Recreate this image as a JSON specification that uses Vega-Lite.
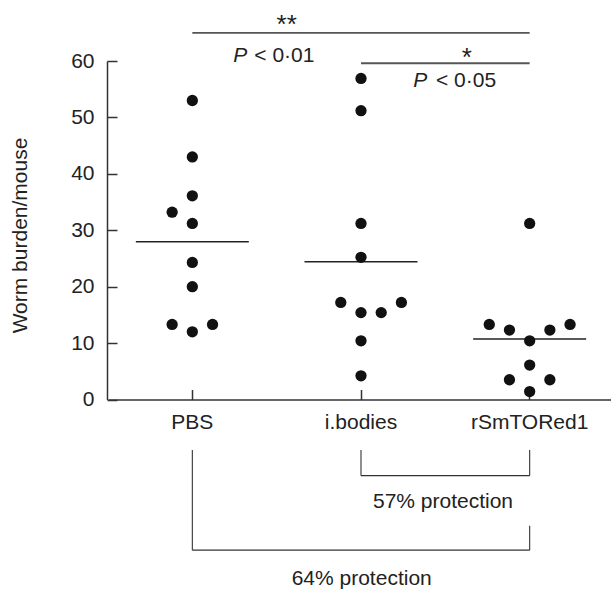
{
  "$schema": "https://vega.github.io/schema/vega-lite/v6.json",
  "width": 506,
  "height": 338.5,
  "autosize": {"type": "none"},
  "padding": {"left": 108, "top": 61, "right": 0, "bottom": 192.5},
  "background": "white",
  "config": {"view": {"stroke": null}, "font": "Liberation Sans"},
  "datasets": {
    "mice": [
      {"group": "PBS", "worms": 53.0, "slot": 0},
      {"group": "PBS", "worms": 43.0, "slot": 0},
      {"group": "PBS", "worms": 36.1, "slot": 0},
      {"group": "PBS", "worms": 33.2, "slot": -1},
      {"group": "PBS", "worms": 31.2, "slot": 0},
      {"group": "PBS", "worms": 24.3, "slot": 0},
      {"group": "PBS", "worms": 20.0, "slot": 0},
      {"group": "PBS", "worms": 13.3, "slot": -1},
      {"group": "PBS", "worms": 13.3, "slot": 1},
      {"group": "PBS", "worms": 12.0, "slot": 0},
      {"group": "i.bodies", "worms": 56.9, "slot": 0},
      {"group": "i.bodies", "worms": 51.2, "slot": 0},
      {"group": "i.bodies", "worms": 31.2, "slot": 0},
      {"group": "i.bodies", "worms": 25.2, "slot": 0},
      {"group": "i.bodies", "worms": 17.2, "slot": -1},
      {"group": "i.bodies", "worms": 15.4, "slot": 0},
      {"group": "i.bodies", "worms": 15.4, "slot": 1},
      {"group": "i.bodies", "worms": 17.2, "slot": 2},
      {"group": "i.bodies", "worms": 10.4, "slot": 0},
      {"group": "i.bodies", "worms": 4.2, "slot": 0},
      {"group": "rSmTORed1", "worms": 31.2, "slot": 0},
      {"group": "rSmTORed1", "worms": 13.3, "slot": -2},
      {"group": "rSmTORed1", "worms": 12.3, "slot": -1},
      {"group": "rSmTORed1", "worms": 12.3, "slot": 1},
      {"group": "rSmTORed1", "worms": 13.3, "slot": 2},
      {"group": "rSmTORed1", "worms": 10.4, "slot": 0},
      {"group": "rSmTORed1", "worms": 6.1, "slot": 0},
      {"group": "rSmTORed1", "worms": 3.5, "slot": -1},
      {"group": "rSmTORed1", "worms": 3.5, "slot": 1},
      {"group": "rSmTORed1", "worms": 1.4, "slot": 0}
    ],
    "siglines": [
      {"group": "PBS", "group2": "rSmTORed1", "worms": 65.0},
      {"group": "i.bodies", "group2": "rSmTORed1", "worms": 59.6}
    ],
    "brackets": [
      {"group": "i.bodies", "group2": "i.bodies", "worms": -8.95, "worms2": -13.5},
      {"group": "rSmTORed1", "group2": "rSmTORed1", "worms": -8.95, "worms2": -13.5},
      {"group": "i.bodies", "group2": "rSmTORed1", "worms": -13.5, "worms2": -13.5},
      {"group": "PBS", "group2": "PBS", "worms": -8.95, "worms2": -26.7},
      {"group": "rSmTORed1", "group2": "rSmTORed1", "worms": -22.4, "worms2": -26.7},
      {"group": "PBS", "group2": "rSmTORed1", "worms": -26.7, "worms2": -26.7}
    ]
  },
  "layer": [
    {
      "data": {"name": "mice"},
      "mark": {"type": "tick", "orient": "horizontal", "size": 113, "thickness": 1.5, "color": "#222"},
      "encoding": {
        "x": {"field": "group", "type": "nominal",
              "scale": {"domain": ["PBS", "i.bodies", "rSmTORed1"], "paddingInner": 0, "paddingOuter": 0},
              "axis": {"title": null, "labelAngle": 0, "labelFontSize": 21, "labelColor": "#222",
                       "labelPadding": 22, "tickSize": -10, "tickWidth": 1.5, "tickColor": "#333",
                       "domainColor": "#333", "domainWidth": 1.5, "grid": false}},
        "y": {"field": "worms", "type": "quantitative", "aggregate": "mean",
              "scale": {"domain": [0, 60], "nice": false, "zero": false},
              "axis": {"title": "Worm burden/mouse", "values": [0, 10, 20, 30, 40, 50, 60],
                       "offset": 1, "tickSize": -10, "tickWidth": 1.5, "tickColor": "#333",
                       "domainColor": "#333", "domainWidth": 1.5, "grid": false,
                       "labelFontSize": 21, "labelColor": "#222", "labelPadding": 23,
                       "titleFontSize": 21, "titleFontWeight": "normal", "titleColor": "#222",
                       "titleAngle": -90, "titleBaseline": "alphabetic", "titleAlign": "center",
                       "titleX": -81, "titleY": 174}}
      }
    },
    {
      "data": {"name": "mice"},
      "mark": {"type": "circle", "size": 127, "opacity": 1, "color": "#111"},
      "encoding": {
        "x": {"field": "group", "type": "nominal"},
        "xOffset": {"field": "slot", "type": "quantitative", "scale": {"domain": [-4.175, 4.175], "range": [0, 168.67]}},
        "y": {"field": "worms", "type": "quantitative"}
      }
    },
    {
      "data": {"name": "siglines"},
      "mark": {"type": "rule", "color": "#555", "strokeWidth": 1.8},
      "encoding": {
        "x": {"field": "group", "type": "nominal"},
        "x2": {"field": "group2"},
        "y": {"field": "worms", "type": "quantitative"}
      }
    },
    {
      "data": {"name": "brackets"},
      "mark": {"type": "rule", "color": "#333", "strokeWidth": 1.1},
      "encoding": {
        "x": {"field": "group", "type": "nominal"},
        "x2": {"field": "group2"},
        "y": {"field": "worms", "type": "quantitative"},
        "y2": {"field": "worms2"}
      }
    },
    {
      "data": {"values": [{"group": "PBS", "worms": 65.03, "label": "**"}]},
      "mark": {"type": "text", "fontSize": 26, "align": "center", "baseline": "alphabetic", "dx": 94.4, "color": "#222"},
      "encoding": {"x": {"field": "group", "type": "nominal"}, "y": {"field": "worms", "type": "quantitative"}, "text": {"field": "label"}}
    },
    {
      "data": {"values": [{"group": "i.bodies", "worms": 59.17, "label": "*"}]},
      "mark": {"type": "text", "fontSize": 26, "align": "center", "baseline": "alphabetic", "dx": 105.7, "color": "#222"},
      "encoding": {"x": {"field": "group", "type": "nominal"}, "y": {"field": "worms", "type": "quantitative"}, "text": {"field": "label"}}
    },
    {
      "data": {"values": [{"group": "PBS", "worms": 59.88, "label": "P"}]},
      "mark": {"type": "text", "fontSize": 21, "fontStyle": "italic", "align": "left", "baseline": "alphabetic", "dx": 41, "color": "#222"},
      "encoding": {"x": {"field": "group", "type": "nominal"}, "y": {"field": "worms", "type": "quantitative"}, "text": {"field": "label"}}
    },
    {
      "data": {"values": [{"group": "PBS", "worms": 59.88, "label": "< 0·01"}]},
      "mark": {"type": "text", "fontSize": 21, "align": "left", "baseline": "alphabetic", "dx": 62, "color": "#222"},
      "encoding": {"x": {"field": "group", "type": "nominal"}, "y": {"field": "worms", "type": "quantitative"}, "text": {"field": "label"}}
    },
    {
      "data": {"values": [{"group": "i.bodies", "worms": 55.44, "label": "P"}]},
      "mark": {"type": "text", "fontSize": 21, "fontStyle": "italic", "align": "left", "baseline": "alphabetic", "dx": 52.3, "color": "#222"},
      "encoding": {"x": {"field": "group", "type": "nominal"}, "y": {"field": "worms", "type": "quantitative"}, "text": {"field": "label"}}
    },
    {
      "data": {"values": [{"group": "i.bodies", "worms": 55.44, "label": "< 0·05"}]},
      "mark": {"type": "text", "fontSize": 21, "align": "left", "baseline": "alphabetic", "dx": 75, "color": "#222"},
      "encoding": {"x": {"field": "group", "type": "nominal"}, "y": {"field": "worms", "type": "quantitative"}, "text": {"field": "label"}}
    },
    {
      "data": {"values": [{"group": "i.bodies", "worms": -19.28, "label": "57% protection"}]},
      "mark": {"type": "text", "fontSize": 21, "align": "center", "baseline": "alphabetic", "dx": 82, "color": "#222"},
      "encoding": {"x": {"field": "group", "type": "nominal"}, "y": {"field": "worms", "type": "quantitative"}, "text": {"field": "label"}}
    },
    {
      "data": {"values": [{"group": "i.bodies", "worms": -32.88, "label": "64% protection"}]},
      "mark": {"type": "text", "fontSize": 21, "align": "center", "baseline": "alphabetic", "dx": 0.7, "color": "#222"},
      "encoding": {"x": {"field": "group", "type": "nominal"}, "y": {"field": "worms", "type": "quantitative"}, "text": {"field": "label"}}
    }
  ]
}
